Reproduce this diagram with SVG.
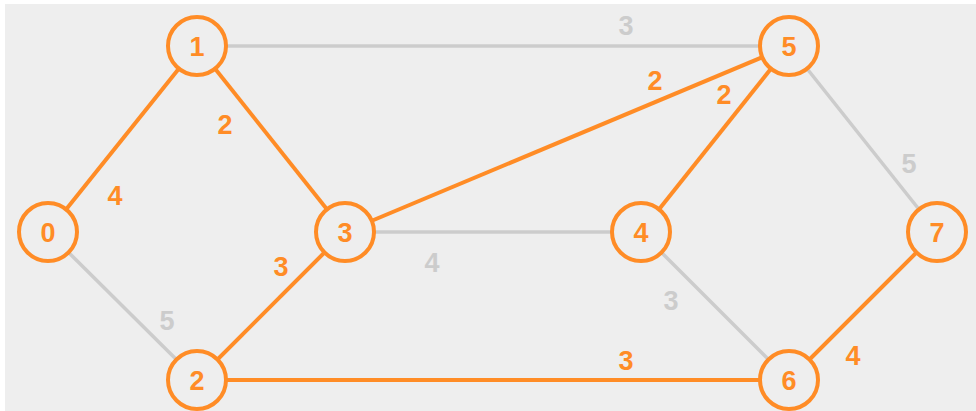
<svg xmlns="http://www.w3.org/2000/svg" width="976" height="411" viewBox="0 0 976 411">
  <style>
    .bg { fill: #eeeeee; }
    .edge { fill: none; stroke-linecap: butt; }
    .hot { stroke: #ff8c26; stroke-width: 4; }
    .cold { stroke: #cccccc; stroke-width: 3.5; }
    .node circle { fill: #eeeeee; stroke: #ff8c26; stroke-width: 4; }
    .node text { fill: #ff8c26; font: bold 27px "Liberation Sans", Arial, sans-serif; text-anchor: middle; }
    .w { font: bold 27px "Liberation Sans", Arial, sans-serif; text-anchor: middle; }
    .w.hot { fill: #ff8c26; stroke: none; }
    .w.cold { fill: #cccccc; stroke: none; }
  </style>

  <rect class="bg" x="5" y="4" width="971" height="407"/>

  <!-- connectors -->
  <g id="edges">
    <line class="edge cold" x1="197" y1="46" x2="789" y2="46"/>
    <line class="edge cold" x1="48" y1="232" x2="197" y2="380"/>
    <line class="edge cold" x1="345" y1="232" x2="641" y2="232"/>
    <line class="edge cold" x1="641" y1="232" x2="789" y2="380"/>
    <line class="edge cold" x1="789" y1="46" x2="937" y2="232"/>
    <line class="edge hot" x1="48" y1="232" x2="197" y2="46"/>
    <line class="edge hot" x1="197" y1="46" x2="345" y2="232"/>
    <line class="edge hot" x1="197" y1="380" x2="345" y2="232"/>
    <line class="edge hot" x1="197" y1="380" x2="789" y2="380"/>
    <line class="edge hot" x1="345" y1="232" x2="789" y2="46"/>
    <line class="edge hot" x1="641" y1="232" x2="789" y2="46"/>
    <line class="edge hot" x1="789" y1="380" x2="937" y2="232"/>
  </g>

  <!-- edge weights -->
  <g id="weights">
    <text class="w cold" x="626" y="35">3</text>
    <text class="w hot" x="225" y="134">2</text>
    <text class="w hot" x="115" y="205">4</text>
    <text class="w hot" x="655" y="90">2</text>
    <text class="w hot" x="724" y="104">2</text>
    <text class="w cold" x="909" y="173">5</text>
    <text class="w cold" x="432" y="272">4</text>
    <text class="w hot" x="281" y="276">3</text>
    <text class="w cold" x="167" y="330">5</text>
    <text class="w cold" x="671" y="310">3</text>
    <text class="w hot" x="626" y="370">3</text>
    <text class="w hot" x="853" y="365">4</text>
  </g>

  <!-- nodes -->
  <g id="node0" class="node"><circle cx="48" cy="232" r="29"/><text x="48" y="242">0</text></g>
  <g id="node1" class="node"><circle cx="197" cy="46" r="29"/><text x="197" y="56">1</text></g>
  <g id="node2" class="node"><circle cx="197" cy="380" r="29"/><text x="197" y="390">2</text></g>
  <g id="node3" class="node"><circle cx="345" cy="232" r="29"/><text x="345" y="242">3</text></g>
  <g id="node4" class="node"><circle cx="641" cy="232" r="29"/><text x="641" y="242">4</text></g>
  <g id="node5" class="node"><circle cx="789" cy="46" r="29"/><text x="789" y="56">5</text></g>
  <g id="node6" class="node"><circle cx="789" cy="380" r="29"/><text x="789" y="390">6</text></g>
  <g id="node7" class="node"><circle cx="937" cy="232" r="29"/><text x="937" y="242">7</text></g>
</svg>
